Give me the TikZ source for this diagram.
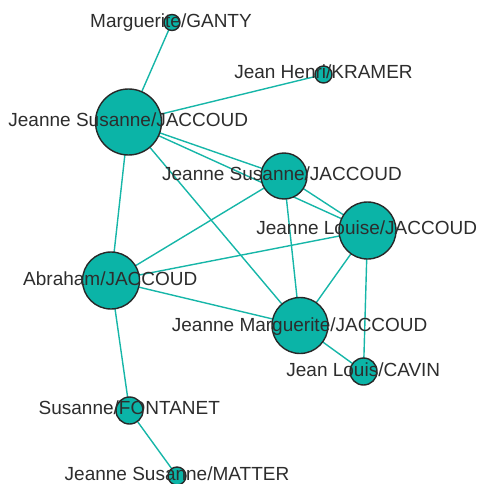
\documentclass[tikz,border=0pt]{standalone}
\usepackage{fontspec}
\setmainfont{Liberation Sans}
\definecolor{tealfill}{RGB}{11,180,167}
\definecolor{tealedge}{RGB}{22,182,168}
\definecolor{rim}{RGB}{40,40,40}
\definecolor{labelgray}{RGB}{45,45,45}
\begin{document}
\begin{tikzpicture}[x=1pt,y=-1pt,
  person/.style={circle,draw=rim,line width=1.4pt,fill=tealfill,inner sep=0pt,minimum size=#1},
  relation/.style={draw=tealedge,line width=1.4pt},
  plabel/.style={anchor=base,text=labelgray,font=\fontsize{19}{21}\selectfont,inner sep=0pt}]
\useasboundingbox (0,0) rectangle (478,484);
% people (circles sized by degree)
\coordinate (ganty) at (172,22.5);
\coordinate (kramer) at (323.5,74.5);
\coordinate (jsA) at (128.5,122);
\coordinate (jsB) at (284,176);
\coordinate (jl) at (367.5,230.5);
\coordinate (abr) at (111,280.5);
\coordinate (jm) at (300,325.5);
\coordinate (cavin) at (363.5,371.5);
\coordinate (font) at (129.5,410.5);
\coordinate (matter) at (177,476);
% relations
\foreach \a/\b in {ganty/jsA,kramer/jsA,jsA/jsB,jsA/jl,jsA/jm,jsA/abr,
                   jsB/jl,jsB/abr,jsB/jm,jl/abr,jl/jm,jl/cavin,
                   abr/jm,jm/cavin,abr/font,font/matter}
  \draw[relation] (\a) -- (\b);
\node[person=16pt] (nganty) at (ganty) {};
\node[person=17pt] (nkramer) at (kramer) {};
\node[person=66pt] (njsA) at (jsA) {};
\node[person=46pt] (njsB) at (jsB) {};
\node[person=57pt] (njl) at (jl) {};
\node[person=57pt] (nabr) at (abr) {};
\node[person=56pt] (njm) at (jm) {};
\node[person=27pt] (ncavin) at (cavin) {};
\node[person=27pt] (nfont) at (font) {};
\node[person=18pt] (nmatter) at (matter) {};
% names
\node[plabel] (lganty) at (171,27.3) {Marguerite/GANTY};
\node[plabel] (lkramer) at (323.5,78.5) {Jean Henri/KRAMER};
\node[plabel] (ljsA) at (128.3,126.7) {Jeanne Susanne/JACCOUD};
\node[plabel] (ljsB) at (282,180.7) {Jeanne Susanne/JACCOUD};
\node[plabel] (ljl) at (366.7,234.3) {Jeanne Louise/JACCOUD};
\node[plabel] (labr) at (110.3,285) {Abraham/JACCOUD};
\node[plabel] (ljm) at (299.7,331) {Jeanne Marguerite/JACCOUD};
\node[plabel] (lcavin) at (363.3,376) {Jean Louis/CAVIN};
\node[plabel] (lfont) at (129.3,414) {Susanne/FONTANET};
\node[plabel] (lmatter) at (177,480.5) {Jeanne Susanne/MATTER};
\end{tikzpicture}
\end{document}
